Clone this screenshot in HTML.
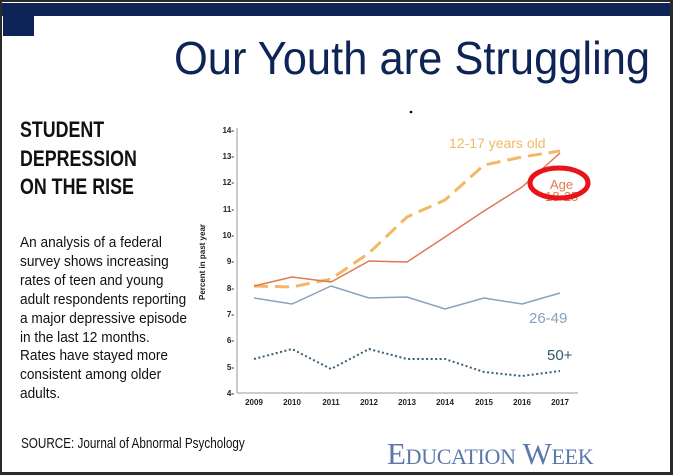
<!DOCTYPE html>
<html><head><meta charset="utf-8"><style>
body{margin:0;width:673px;height:475px;overflow:hidden;background:#2a2a2a;position:relative;font-family:"Liberation Sans",sans-serif}
.slide{position:absolute;left:2px;top:2px;width:668px;height:470px;background:#fff}
.band{position:absolute;left:0;top:1px;width:668px;height:13px;background:#0f2456}
.blk{position:absolute;left:1px;top:1px;width:31px;height:33px;background:#0f2456}
.t{position:absolute;white-space:nowrap;transform-origin:0 0}
</style></head><body>
<div class="slide">
<div class="band"></div><div class="blk"></div>
<div class="t" style="left:172px;top:29px;font-size:46px;color:#0f2456;transform:scaleX(0.945)">Our Youth are Struggling</div>
<div class="t" style="left:18px;top:114px;font-size:22px;font-weight:bold;line-height:28.5px;color:#111;transform:scaleX(0.81)">STUDENT<br>DEPRESSION<br>ON THE RISE</div>
<div class="t" style="left:18px;top:232px;font-size:15px;line-height:18.9px;color:#111;transform:scaleX(0.91)">An analysis of a federal<br>survey shows increasing<br>rates of teen and young<br>adult respondents reporting<br>a major depressive episode<br>in the last 12 months.<br>Rates have stayed more<br>consistent among older<br>adults.</div>
<div class="t" style="left:19px;top:433px;font-size:15px;color:#111;transform:scaleX(0.78)">SOURCE: Journal of Abnormal Psychology</div>
<div class="t" style="left:385px;top:434px;font-size:31px;color:#5b78a8;font-family:'Liberation Serif',serif;font-variant:small-caps;letter-spacing:-0.3px">Education Week</div>
</div>
<svg width="673" height="475" style="position:absolute;left:0;top:0" font-family="Liberation Sans,sans-serif">
<line x1="237" y1="128" x2="237" y2="393" stroke="#bbb" stroke-width="1.5"/>
<line x1="237" y1="393" x2="578" y2="393" stroke="#bbb" stroke-width="1.5"/>
<g font-size="8" font-weight="bold" fill="#222" text-anchor="end">
<text x="234" y="133">14-</text><text x="234" y="159">13-</text><text x="234" y="185">12-</text><text x="234" y="212">11-</text><text x="234" y="238">10-</text><text x="234" y="264">9-</text><text x="234" y="291">8-</text><text x="234" y="317">7-</text><text x="234" y="343">6-</text><text x="234" y="370">5-</text><text x="234" y="396">4-</text>
</g>
<text transform="translate(205,262) rotate(-90)" font-size="8" font-weight="bold" fill="#222" text-anchor="middle">Percent in past year</text>
<g font-size="8" font-weight="bold" fill="#222" text-anchor="middle">
<text x="254" y="405">2009</text><text x="292" y="405">2010</text><text x="331" y="405">2011</text><text x="369" y="405">2012</text><text x="407" y="405">2013</text><text x="445" y="405">2014</text><text x="484" y="405">2015</text><text x="522" y="405">2016</text><text x="560" y="405">2017</text>
</g>
<polyline fill="none" stroke="#f2b865" stroke-width="3" stroke-dasharray="14,7" points="254,286 292,287 331,279 369,253 407,217 445,200 484,165 522,157 560,151"/>
<polyline fill="none" stroke="#e07850" stroke-width="1.5" points="254,286 292,277 331,282 369,261 407,262 445,237 484,211 522,187 560,153"/>
<polyline fill="none" stroke="#8aa0c0" stroke-width="1.5" points="254,298 292,304 331,286 369,298 407,297 445,309 484,298 522,304 560,293"/>
<polyline fill="none" stroke="#3a6078" stroke-width="2" stroke-dasharray="2,2.5" points="254,359 292,349 331,369 369,349 407,359 445,359 484,372 522,376 560,371"/>
<text x="449" y="148" font-size="14" fill="#f2b865">12-17 years old</text>
<text x="550" y="189" font-size="13" fill="#e07850">Age</text>
<text x="545" y="201" font-size="13" fill="#e07850">18-25</text>
<ellipse cx="559" cy="183" rx="29" ry="15" fill="none" stroke="#e8141a" stroke-width="5"/>
<text x="529" y="323" font-size="15" fill="#8aa0c0">26-49</text>
<text x="547" y="360" font-size="15" fill="#2f5a70">50+</text>
<circle cx="411" cy="112" r="1.3" fill="#000"/>
</svg>
</body></html>
